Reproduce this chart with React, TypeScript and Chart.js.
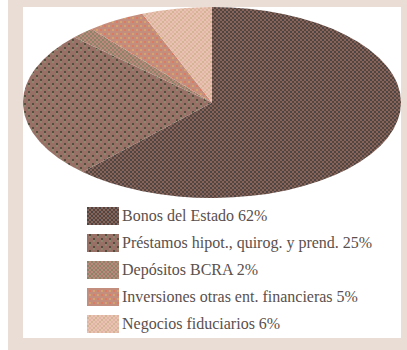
import React, { useEffect, useRef } from "react";
import { Chart, registerables } from "chart.js";

Chart.register(...registerables);

const categories = [
  "Bonos del Estado",
  "Préstamos hipot., quirog. y prend.",
  "Depósitos BCRA",
  "Inversiones otras ent. financieras",
  "Negocios fiduciarios",
];
const shares = [62, 25, 2, 5, 6];
const legendLabels = categories.map((c, i) => `${c} ${shares[i]}%`);

// dither tiles (colour textures) for each slice
const tiles: string[][][] = [
  [
    ["#52453d", "#87635b", "#4a4646", "#87635b"],
    ["#87635b", "#55473e", "#87635b", "#55473e"],
    ["#52453d", "#87635b", "#4a4646", "#87635b"],
    ["#87635b", "#55473e", "#87635b", "#55473e"],
  ],
  [
    ["#987066", "#544e3e", "#987066", "#987066"],
    ["#987066", "#8c876e", "#987066", "#987066"],
    ["#987066", "#987066", "#987066", "#544e3e"],
    ["#987066", "#987066", "#987066", "#8c876e"],
  ],
  [
    ["#8c8468", "#bc8a7c", "#8c8468", "#bc8a7c"],
    ["#bc8a7c", "#a07e6c", "#bc8a7c", "#8c8468"],
    ["#8c8468", "#bc8a7c", "#8c8468", "#bc8a7c"],
    ["#bc8a7c", "#8c8468", "#bc8a7c", "#a07e6c"],
  ],
  [
    ["#c48e7e", "#c48e7e", "#c48e7e", "#c48e7e"],
    ["#c48e7e", "#dc7a62", "#c48e7e", "#d6a26e"],
    ["#c48e7e", "#c48e7e", "#c48e7e", "#c48e7e"],
    ["#c48e7e", "#d6a26e", "#c48e7e", "#dc7a62"],
  ],
  [
    ["#e8c2b2", "#d6b394", "#e8c2b2", "#e2b4a2"],
    ["#d6b394", "#e8c2b2", "#e2b4a2", "#e8c2b2"],
    ["#e8c2b2", "#e2b4a2", "#e8c2b2", "#d6b394"],
    ["#e2b4a2", "#e8c2b2", "#d6b394", "#e8c2b2"],
  ],
];

const TEX = 2; // texture pixel size on the page

function makeTileCanvas(tile: string[][]) {
  const c = document.createElement("canvas");
  c.width = tile[0].length * TEX;
  c.height = tile.length * TEX;
  const x = c.getContext("2d")!;
  tile.forEach((row, j) =>
    row.forEach((col, i) => {
      x.fillStyle = col;
      x.fillRect(i * TEX, j * TEX, TEX, TEX);
    })
  );
  return c;
}

function makePattern(ctx: CanvasRenderingContext2D, tile: string[][], sx: number) {
  const p = ctx.createPattern(makeTileCanvas(tile), "repeat")!;
  if (sx !== 1 && (p as any).setTransform) {
    p.setTransform(new DOMMatrix().scale(1 / sx, 1));
  }
  return p;
}

const PIE_W = 378;
const PIE_H = 191;

function Swatch({ tile }: { tile: string[][] }) {
  const ref = useRef<HTMLCanvasElement>(null);
  useEffect(() => {
    const c = ref.current!;
    const ctx = c.getContext("2d")!;
    ctx.fillStyle = makePattern(ctx, tile, 1);
    ctx.fillRect(0, 0, c.width, c.height);
  }, [tile]);
  return (
    <canvas
      ref={ref}
      width={32}
      height={18}
      style={{ position: "absolute", left: 0, top: 0, display: "block" }}
    />
  );
}

export default function App() {
  const ref = useRef<HTMLCanvasElement>(null);
  useEffect(() => {
    const canvas = ref.current!;
    const ctx = canvas.getContext("2d")!;
    const sx = PIE_W / PIE_H;
    const stretch = {
      id: "stretch",
      beforeDatasetsDraw(chart: any) {
        const c = chart.ctx;
        const cx = (chart.chartArea.left + chart.chartArea.right) / 2;
        c.save();
        c.imageSmoothingEnabled = false;
        c.translate(cx, 0);
        c.scale(sx, 1);
        c.translate(-cx, 0);
      },
      afterDatasetsDraw(chart: any) {
        chart.ctx.restore();
      },
    };
    const chart = new Chart(canvas, {
      type: "pie",
      data: {
        labels: categories,
        datasets: [
          {
            data: shares,
            backgroundColor: tiles.map((t) => makePattern(ctx, t, sx)) as any,
            borderWidth: 0,
          },
        ],
      },
      options: {
        animation: false,
        responsive: false,
        maintainAspectRatio: false,
        devicePixelRatio: 1,
        layout: { padding: 0 },
        plugins: {
          legend: { display: false },
          tooltip: { enabled: false },
        },
      },
      plugins: [stretch],
    });
    return () => chart.destroy();
  }, []);

  return (
    <div
      style={{
        position: "fixed",
        left: 8,
        top: 0,
        width: 399,
        height: 350,
        background: "#e9ddd6",
      }}
    >
      <div
        style={{
          position: "absolute",
          left: 15,
          top: 7,
          width: 378,
          height: 331,
          background: "#ffffff",
        }}
      >
        <canvas
          ref={ref}
          width={PIE_W}
          height={PIE_H}
          style={{ position: "absolute", left: 0, top: 0, width: PIE_W, height: PIE_H }}
        />
        {legendLabels.map((lab, i) => (
          <div
            key={i}
            style={{ position: "absolute", left: 64, top: 200 + i * 27, height: 18, width: 300 }}
          >
            <Swatch tile={tiles[i]} />
            <span
              style={{
                position: "absolute",
                left: 35,
                top: -1,
                whiteSpace: "nowrap",
                fontFamily: "'Liberation Serif', serif",
                fontSize: 16,
                lineHeight: "20px",
                color: "#5a504d",
                letterSpacing: "0px",
              }}
            >
              {lab}
            </span>
          </div>
        ))}
      </div>
    </div>
  );
}
